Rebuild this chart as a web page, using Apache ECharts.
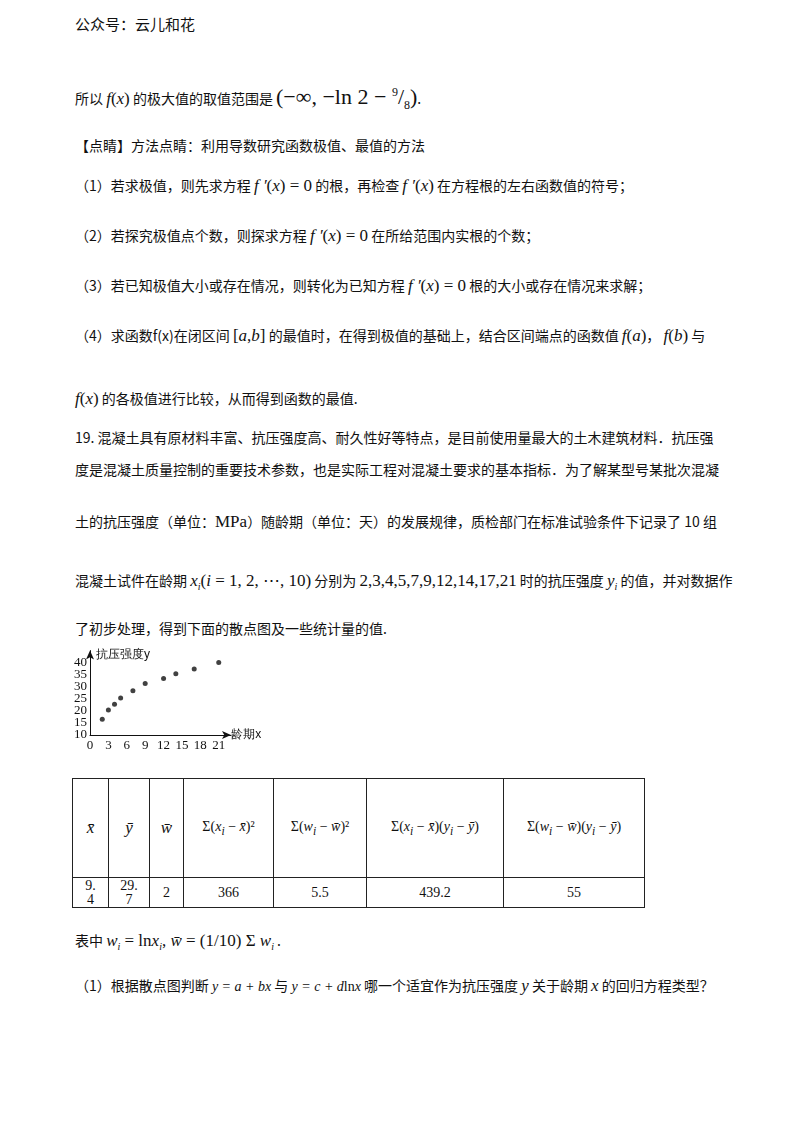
<!DOCTYPE html>
<html><head><meta charset="utf-8">
<script src="https://cdn.jsdelivr.net/npm/echarts@6/dist/echarts.min.js"></script>
<style>
body{margin:0;width:800px;height:1132px;background:#fff;font-family:"Noto Sans CJK SC",sans-serif;color:#111;position:relative;overflow:hidden}
.t{position:absolute;left:75px;font-size:14px;white-space:nowrap;line-height:20px}
.m{font-family:"Liberation Serif",serif;font-style:italic;font-size:17px}
.r{font-family:"Liberation Serif",serif;font-size:17px}
table{position:absolute;left:72px;top:778px;border-collapse:collapse;font-family:"Liberation Serif",serif;font-size:14px}
td{border:1.5px solid #222;text-align:center;padding:0}
</style></head><body>
<div class="t" style="top:14px;font-size:15px">公众号：云儿和花</div>
<div class="t" style="top:82px">所以 <span class="m">f</span><span class="r">(</span><span class="m">x</span><span class="r">)</span> 的极大值的取值范围是 <span class="r" style="font-size:22px">(−∞, −ln 2 − <sup style="font-size:12px">9</sup>/<sub style="font-size:12px">8</sub>)</span>.</div>
<div class="t" style="top:135px">【点睛】方法点睛：利用导数研究函数极值、最值的方法</div>
<div class="t" style="top:175px">（1）若求极值，则先求方程 <span class="m">f ′</span><span class="r">(</span><span class="m">x</span><span class="r">) = 0</span> 的根，再检查 <span class="m">f ′</span><span class="r">(</span><span class="m">x</span><span class="r">)</span> 在方程根的左右函数值的符号；</div>
<div class="t" style="top:225px">（2）若探究极值点个数，则探求方程 <span class="m">f ′</span><span class="r">(</span><span class="m">x</span><span class="r">) = 0</span> 在所给范围内实根的个数；</div>
<div class="t" style="top:275px">（3）若已知极值大小或存在情况，则转化为已知方程 <span class="m">f ′</span><span class="r">(</span><span class="m">x</span><span class="r">) = 0</span> 根的大小或存在情况来求解；</div>
<div class="t" style="top:325px">（4）求函数f(x)在闭区间 <span class="r">[</span><span class="m">a</span><span class="r">,</span><span class="m">b</span><span class="r">]</span> 的最值时，在得到极值的基础上，结合区间端点的函数值 <span class="m">f</span><span class="r">(</span><span class="m">a</span><span class="r">)</span>， <span class="m">f</span><span class="r">(</span><span class="m">b</span><span class="r">)</span> 与</div>
<div class="t" style="top:388px"><span class="m">f</span><span class="r">(</span><span class="m">x</span><span class="r">)</span> 的各极值进行比较，从而得到函数的最值.</div>
<div class="t" style="top:427px">19. 混凝土具有原材料丰富、抗压强度高、耐久性好等特点，是目前使用量最大的土木建筑材料．抗压强</div>
<div class="t" style="top:459px">度是混凝土质量控制的重要技术参数，也是实际工程对混凝土要求的基本指标．为了解某型号某批次混凝</div>
<div class="t" style="top:511px">土的抗压强度（单位：<span class="r">MPa</span>）随龄期（单位：天）的发展规律，质检部门在标准试验条件下记录了 10 组</div>
<div class="t" style="top:570px">混凝土试件在龄期 <span class="m">x<sub style="font-size:10px">i</sub></span><span class="r">(</span><span class="m">i</span><span class="r"> = 1, 2, ⋯, 10)</span> 分别为 <span class="r">2,3,4,5,7,9,12,14,17,21</span> 时的抗压强度 <span class="m">y<sub style="font-size:10px">i</sub></span> 的值，并对数据作</div>
<div class="t" style="top:618px">了初步处理，得到下面的散点图及一些统计量的值.</div>
<div id="c" style="position:absolute;left:60px;top:640px;width:220px;height:120px"></div>
<table>
<tr style="height:99px"><td style="width:35px" class="m">x̄</td><td style="width:40px" class="m">ȳ</td><td style="width:33px" class="m">w̄</td>
<td style="width:89px">Σ(<i>x<sub>i</sub></i> − <i>x̄</i>)²</td><td style="width:92px">Σ(<i>w<sub>i</sub></i> − <i>w̄</i>)²</td><td style="width:136px">Σ(<i>x<sub>i</sub></i> − <i>x̄</i>)(<i>y<sub>i</sub></i> − <i>ȳ</i>)</td><td style="width:140px">Σ(<i>w<sub>i</sub></i> − <i>w̄</i>)(<i>y<sub>i</sub></i> − <i>ȳ</i>)</td></tr>
<tr style="height:30px"><td style="line-height:14px">9.<br>4</td><td style="line-height:14px">29.<br>7</td><td>2</td><td>366</td><td>5.5</td><td>439.2</td><td>55</td></tr>
</table>
<div class="t" style="top:930px">表中 <span class="m">w<sub style="font-size:10px">i</sub></span><span class="r"> = ln</span><span class="m">x<sub style="font-size:10px">i</sub></span><span class="r">, </span><span class="m">w̄</span><span class="r"> = (1/10) Σ </span><span class="m">w<sub style="font-size:10px">i</sub></span> .</div>
<div class="t" style="top:975px">（1）根据散点图判断 <span class="m" style="font-size:14px">y = a + bx</span> 与 <span class="m" style="font-size:14px">y = c + d</span><span class="r" style="font-size:14px">ln</span><span class="m" style="font-size:14px">x</span> 哪一个适宜作为抗压强度 <span class="m">y</span> 关于龄期 <span class="m">x</span> 的回归方程类型？</div>
<script>
const ages=[2,3,4,5,7,9,12,14,17,21];
const strength=[16.5,20.4,22.7,25.3,28.4,31.4,33.4,35.4,37.4,40.1];
const xTicks=[0,3,6,9,12,15,18,21];
const yTicks=[10,15,20,25,30,35,40];
const ch=echarts.init(document.getElementById('c'));
const lab={color:'#111',fontSize:13,lineHeight:10,fontFamily:'Liberation Serif',margin:3,hideOverlap:false,showMaxLabel:false,interval:0};
const fmt=ticks=>v=>{const r=Math.round(v);return (Math.abs(r-v)<1e-6&&ticks.includes(r))?String(r):'';};
ch.setOption({animation:false,
grid:{left:30,top:10.6,width:141,height:84.4},
xAxis:{type:'value',min:0,max:23,interval:3,axisLine:{lineStyle:{color:'#111'},symbol:['none','arrow'],symbolSize:[6,9]},axisTick:{show:false},splitLine:{show:false},
 axisLabel:Object.assign({},lab,{formatter:fmt(xTicks),margin:6,showMinLabel:true}),name:'龄期x',nameGap:2,nameTextStyle:{color:'#111',fontSize:12,padding:[24,0,0,-16]}},
yAxis:[{type:'value',min:10,max:45,interval:5,axisLine:{lineStyle:{color:'#111'},symbol:['none','arrow'],symbolSize:[6,9]},axisTick:{show:false},splitLine:{show:false},
 axisLabel:Object.assign({},lab,{formatter:fmt(yTicks.slice(1)),showMinLabel:false}),name:'抗压强度y',nameGap:-10,nameTextStyle:{color:'#111',fontSize:12,align:'left',padding:[0,0,0,6]}},
 {type:'value',position:'left',min:10,max:45,interval:5,axisLine:{show:false},axisTick:{show:false},splitLine:{show:false},
 axisLabel:Object.assign({},lab,{formatter:fmt(yTicks.slice(0,1)),showMinLabel:true})}],
series:[{type:'scatter',symbolSize:5,itemStyle:{color:'#111'},data:ages.map((a,i)=>[a,strength[i]])}]
});
</script>
</body></html>
